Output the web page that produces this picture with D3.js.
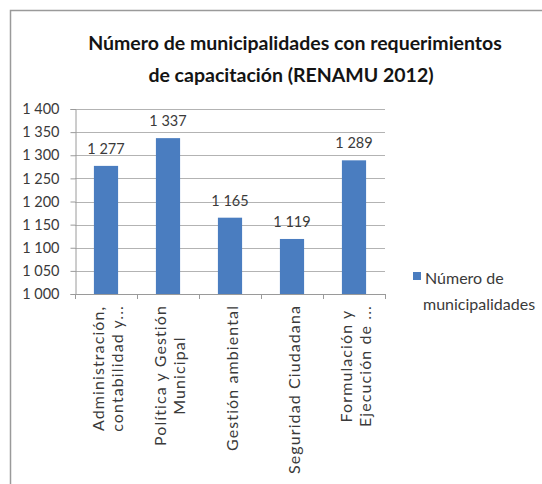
<!DOCTYPE html>
<html>
<head>
<meta charset="utf-8">
<script src="https://cdn.jsdelivr.net/npm/d3@7"></script>
<style>
  html, body { margin: 0; padding: 0; background: #ffffff; }
  svg { display: block; }
  text { font-family: Lato, "Open Sans", sans-serif; }
</style>
</head>
<body>
<svg id="chart" width="542" height="484"></svg>
<script>
// Capacitación requerida por las municipalidades (RENAMU 2012)
const titleLines = ["Número de municipalidades con requerimientos", "de capacitación (RENAMU 2012)"];
const categoryLines = [
  ["Administración,", "contabilidad y..."],
  ["Política y Gestión", "Municipal"],
  ["Gestión ambiental"],
  ["Seguridad Ciudadana"],
  ["Formulación y", "Ejecución de ..."]
];
const values = [1277, 1337, 1165, 1119, 1289];
const yTickValues = [1000, 1050, 1100, 1150, 1200, 1250, 1300, 1350, 1400];
const yDomain = [1000, 1400];
const legendLines = ["Número de", "municipalidades"];

const barColor = "#4a7dc0";
const gridColor = "#b3b3b3";
const axisColor = "#9a9a9a";
const textColor = "#3a3a3a";

const fmt = d3.formatLocale({ decimal: ",", thousands: " ", grouping: [3], currency: ["", ""] }).format(",d");

const svg = d3.select("#chart");

// chart area frame
svg.append("rect")
  .attr("x", 10.5).attr("y", 10.5)
  .attr("width", 700).attr("height", 700)
  .attr("fill", "#ffffff")
  .attr("stroke", "#9a9a9a")
  .attr("stroke-width", 1.5);

// title
const titleX = [295, 291];
const titleY = [50, 82];
svg.append("g").selectAll("text")
  .data(titleLines)
  .join("text")
  .attr("x", (d, i) => titleX[i])
  .attr("y", (d, i) => titleY[i])
  .attr("text-anchor", "middle")
  .attr("font-size", 19.5)
  .attr("font-weight", "bold")
  .attr("fill", "#141414")
  .text(d => d);

const plot = { left: 75, right: 385, top: 109, bottom: 294 };

const x = d3.scaleBand()
  .domain(d3.range(values.length))
  .range([plot.left, plot.right])
  .paddingInner(0.61)
  .paddingOuter(0.305);

const y = d3.scaleLinear().domain(yDomain).range([plot.bottom, plot.top]);

// horizontal gridlines
svg.append("g").selectAll("line")
  .data(yTickValues.slice(1))
  .join("line")
  .attr("x1", plot.left).attr("x2", plot.right)
  .attr("y1", d => Math.round(y(d)) + 0.5)
  .attr("y2", d => Math.round(y(d)) + 0.5)
  .attr("stroke", gridColor)
  .attr("stroke-width", 1);

// value axis
const yAxis = svg.append("g")
  .attr("transform", `translate(${plot.left + 0.5},0)`)
  .call(d3.axisLeft(y).tickValues(yTickValues).tickFormat(fmt).tickSize(5).tickPadding(11));
yAxis.select(".domain").attr("stroke", axisColor);
yAxis.selectAll(".tick line").attr("stroke", axisColor);
yAxis.selectAll(".tick text")
  .attr("font-family", "Lato, 'Open Sans', sans-serif")
  .attr("font-size", 14.5)
  .attr("fill", textColor);

// category axis baseline and separators
const step = x.step();
const boundaries = d3.range(values.length + 1).map(i => plot.left + i * step);
const xAxisG = svg.append("g");
xAxisG.append("line")
  .attr("x1", plot.left).attr("x2", plot.right)
  .attr("y1", plot.bottom + 0.5).attr("y2", plot.bottom + 0.5)
  .attr("stroke", axisColor);
xAxisG.selectAll("line.sep")
  .data(boundaries)
  .join("line")
  .attr("class", "sep")
  .attr("x1", d => Math.round(d) + 0.5).attr("x2", d => Math.round(d) + 0.5)
  .attr("y1", plot.bottom).attr("y2", plot.bottom + 5)
  .attr("stroke", axisColor);

// bars
svg.append("g").selectAll("rect")
  .data(values)
  .join("rect")
  .attr("x", (d, i) => x(i))
  .attr("width", x.bandwidth())
  .attr("y", d => y(d))
  .attr("height", d => y(yDomain[0]) - y(d))
  .attr("fill", barColor);

// value labels
svg.append("g").selectAll("text")
  .data(values)
  .join("text")
  .attr("x", (d, i) => x(i) + x.bandwidth() / 2)
  .attr("y", d => y(d) - 12)
  .attr("text-anchor", "middle")
  .attr("font-size", 14.5)
  .attr("fill", textColor)
  .text(d => fmt(d));

// rotated category labels
const catFont = 16;
const lineGap = 19;
const catTop = plot.bottom + 11;
const catG = svg.append("g");
categoryLines.forEach((lines, i) => {
  const cx = x(i) + x.bandwidth() / 2 + 2;
  const g = catG.append("g");
  const texts = g.selectAll("text")
    .data(lines)
    .join("text")
    .attr("text-anchor", "middle")
    .attr("font-family", "'Liberation Sans', Arial, sans-serif")
    .attr("font-size", catFont)
    .attr("letter-spacing", 1.1)
    .attr("fill", textColor)
    .text(d => d);
  let maxLen = 0;
  texts.each(function () { maxLen = Math.max(maxLen, this.getComputedTextLength()); });
  const cy = catTop + maxLen / 2;
  const n = lines.length;
  texts.attr("transform", (d, j) => {
    const lx = cx + (j - (n - 1) / 2) * lineGap + catFont * 0.35;
    return `translate(${lx},${cy}) rotate(-90)`;
  });
});

// legend
const legend = svg.append("g");
legend.append("rect")
  .attr("x", 413).attr("y", 272)
  .attr("width", 8).attr("height", 8)
  .attr("fill", barColor);
legend.selectAll("text")
  .data(legendLines)
  .join("text")
  .attr("x", (d, i) => i === 0 ? 425 : 423)
  .attr("y", (d, i) => i === 0 ? 284 : 310)
  .attr("font-size", 16)
  .attr("fill", textColor)
  .text(d => d);
</script>
</body>
</html>
